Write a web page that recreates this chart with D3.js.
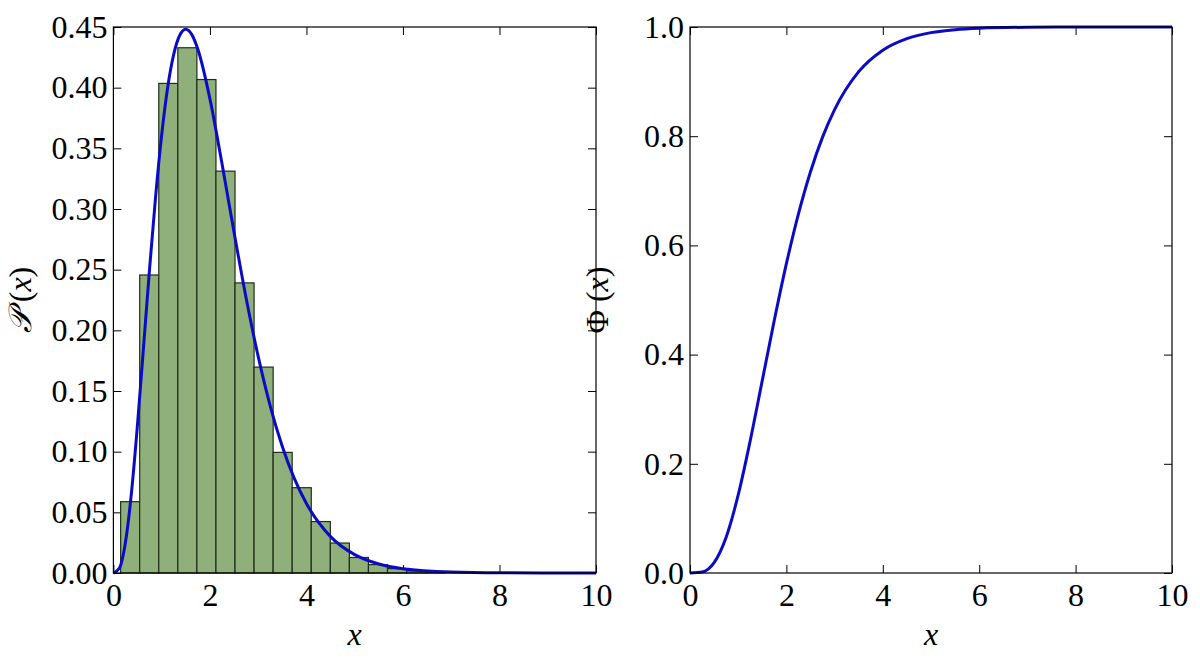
<!DOCTYPE html><html><head><meta charset="utf-8"><script src="https://cdn.jsdelivr.net/npm/d3@7"></script>
<style>body{margin:0;background:#fff}svg text{font-family:'Liberation Serif','DejaVu Serif',serif !important;fill:#000}</style></head><body><svg width="1200" height="662"></svg><script>
const binStart=[0.15,0.545,0.94,1.335,1.73,2.125,2.52,2.915,3.31,3.705,4.1,4.495,4.89,5.285,5.68,6.075,6.47];
const binWidth=0.395;
const binVals=[0.0588,0.2456,0.4035,0.4329,0.4067,0.3312,0.2391,0.1697,0.0994,0.0703,0.0424,0.0247,0.0128,0.0069,0.0036,0.0018,0.0008];
const pdfX=[0,0.125,0.25,0.375,0.5,0.625,0.75,0.875,1,1.125,1.25,1.375,1.5,1.625,1.75,2,2.25,2.5,2.75,3,3.25,3.5,3.75,4,4.5,5,5.5,6,7,8,10];
const pdfY=[0,0.00405,0.02527,0.0664,0.1226,0.1865,0.2510,0.3105,0.3609,0.4003,0.4275,0.4432,0.4481,0.4437,0.4316,0.3908,0.3375,0.2808,0.2267,0.1785,0.1376,0.1043,0.0778,0.05726,0.02999,0.01513,0.00741,0.00354,0.00076,0.000154,0];
const cdfX=[0,0.25,0.5,0.75,1,1.25,1.5,1.75,2,2.25,2.5,2.75,3,3.5,4,4.5,5,5.5,6,7,8,10];
const cdfY=[0,0.00175,0.0190,0.0656,0.1429,0.2425,0.3528,0.4633,0.5665,0.6577,0.7350,0.7983,0.8488,0.9182,0.9576,0.9788,0.9897,0.9951,0.9977,0.9995,0.9999,1];
const leftYTicks=[0,0.05,0.1,0.15,0.2,0.25,0.3,0.35,0.4,0.45];
const rightYTicks=[0,0.2,0.4,0.6,0.8,1.0];
const xTicks=[0,2,4,6,8,10];
const svg=d3.select("svg");
const FF="Liberation Serif, DejaVu Serif, serif";
function panel(x0,x1,ymax,yt,fmt,ylabel){
  const T=27,B=573;
  const x=d3.scaleLinear([0,10],[x0,x1]), y=d3.scaleLinear([0,ymax],[B,T]);
  const g=svg.append("g");
  const ax=(gen,tr)=>g.append("g").attr("transform",tr).call(gen).attr("font-family",FF).call(s=>{s.select(".domain").remove();s.selectAll("line").attr("stroke","#000");s.selectAll("text").style("font-size","32px");});
  ax(d3.axisBottom(x).tickValues(xTicks).tickSize(-8).tickPadding(10).tickFormat(d3.format("d")),`translate(0,${B})`);
  ax(d3.axisTop(x).tickValues(xTicks).tickSize(-8).tickFormat(""),`translate(0,${T})`);
  ax(d3.axisLeft(y).tickValues(yt).tickSize(-8).tickPadding(6).tickFormat(d3.format(fmt)),`translate(${x0},0)`);
  ax(d3.axisRight(y).tickValues(yt).tickSize(-8).tickFormat(""),`translate(${x1},0)`);
  g.append("text").attr("x",(x0+x1)/2).attr("y",645).attr("text-anchor","middle").style("font-size","32px").attr("font-style","italic").text("x");
  g.append("text").attr("transform",`translate(${x0-82},${(T+B)/2}) rotate(-90)`).attr("text-anchor","middle").style("font-size","32px").html(ylabel);
  return {g,x,y,T,B,x0,x1};
}
const L=panel(113.4,596,0.45,leftYTicks,".2f",'<tspan font-style="italic">𝒫</tspan> (<tspan font-style="italic">x</tspan>)');
L.g.selectAll("rect.bar").data(binVals).join("rect").attr("x",(d,i)=>L.x(binStart[i])).attr("width",L.x(binWidth)-L.x(0)).attr("y",d=>L.y(d)).attr("height",d=>L.B-L.y(d)).attr("fill","#8fb07a").attr("stroke","#1e2e18").attr("stroke-width",1.2);
L.g.append("path").datum(pdfX.map((v,i)=>[v,pdfY[i]])).attr("d",d3.line().x(d=>L.x(d[0])).y(d=>L.y(d[1])).curve(d3.curveMonotoneX)).attr("fill","none").attr("stroke","#0b0bc4").attr("stroke-width",3);
L.g.append("rect").attr("x",L.x0).attr("y",L.T).attr("width",L.x1-L.x0).attr("height",L.B-L.T).attr("fill","none").attr("stroke","#000").attr("stroke-width",1.2);
const R=panel(690,1172,1.0,rightYTicks,".1f",'Φ (<tspan font-style="italic">x</tspan>)');
R.g.append("path").datum(cdfX.map((v,i)=>[v,cdfY[i]])).attr("d",d3.line().x(d=>R.x(d[0])).y(d=>R.y(d[1])).curve(d3.curveMonotoneX)).attr("fill","none").attr("stroke","#0b0bc4").attr("stroke-width",3);
R.g.append("rect").attr("x",R.x0).attr("y",R.T).attr("width",R.x1-R.x0).attr("height",R.B-R.T).attr("fill","none").attr("stroke","#000").attr("stroke-width",1.2);
</script></body></html>
